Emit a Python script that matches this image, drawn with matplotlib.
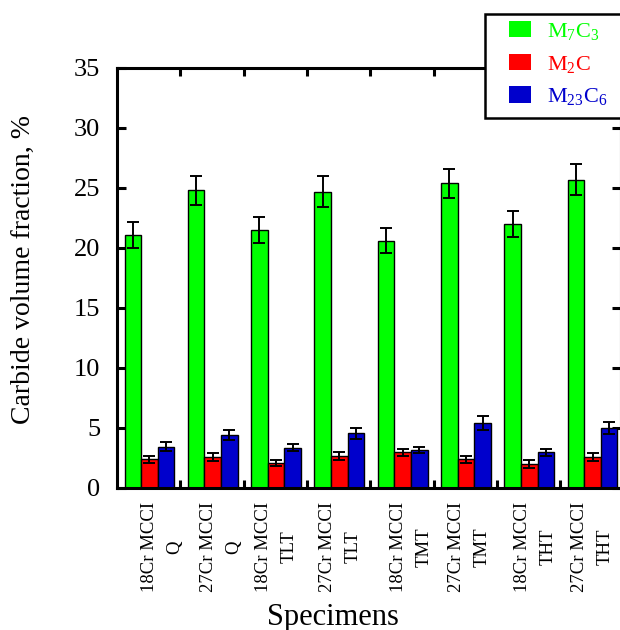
import matplotlib
matplotlib.use("Agg")
import matplotlib.pyplot as plt
from matplotlib.patches import Rectangle
import numpy as np

plt.rcParams['font.family'] = ['Liberation Serif', 'DejaVu Serif']
plt.rcParams['mathtext.fontset'] = 'custom'
plt.rcParams['mathtext.rm'] = 'Liberation Serif'
plt.rcParams['mathtext.it'] = 'Liberation Serif'

categories = ["18Cr MCCI\nQ", "27Cr MCCI\nQ", "18Cr MCCI\nTLT", "27Cr MCCI\nTLT",
              "18Cr MCCI\nTMT", "27Cr MCCI\nTMT", "18Cr MCCI\nTHT", "27Cr MCCI\nTHT"]
m7c3 = [21.1, 24.8, 21.5, 24.7, 20.6, 25.4, 22.0, 25.7]
m7c3_err = [1.1, 1.2, 1.1, 1.3, 1.05, 1.2, 1.1, 1.3]
m2c = [2.4, 2.58, 2.1, 2.67, 2.97, 2.4, 2.0, 2.56]
m2c_err = [0.3, 0.3, 0.27, 0.33, 0.3, 0.3, 0.3, 0.35]
m23c6 = [3.44, 4.44, 3.36, 4.56, 3.17, 5.42, 2.97, 5.0]
m23c6_err = [0.37, 0.4, 0.3, 0.47, 0.28, 0.6, 0.3, 0.5]
series_names = ["M$_7$C$_3$", "M$_2$C", "M$_{23}$C$_6$"]
colors = ["#00FF00", "#FF0000", "#0000CC"]
yticks = [0, 5, 10, 15, 20, 25, 30, 35]

# label placement nudges (fraction of a group), as the labels sit in the reference
label_nudge = np.array([0.2, 0.13, 0.0, 0.02, 0.14, 0.05, 0.1, 0.0])

W, H = 620, 630
fig = plt.figure(figsize=(W / 100, H / 100), dpi=100)
ax = fig.add_axes([117 / W, 1 - 488 / H, (621 - 117) / W, (488 - 68) / H])

x = np.arange(len(categories))
w = 0.262
for k, (vals, errs) in enumerate([(m7c3, m7c3_err), (m2c, m2c_err), (m23c6, m23c6_err)]):
    ax.bar(x + (k - 1) * w, vals, width=w, color=colors[k], edgecolor='black',
           linewidth=1.0, label=series_names[k], zorder=2,
           yerr=errs, error_kw=dict(ecolor='black', elinewidth=1.4, capsize=4, capthick=1.4))

ax.set_xlim(-0.513, 7.45)
ax.set_ylim(0, 35)
ax.set_yticks(yticks)
ax.set_yticklabels([str(v) for v in yticks])
ax.set_xticks(x + label_nudge)
ax.set_xticklabels(categories, rotation=90, va='top', ha='center', multialignment='center',
                   linespacing=1.65, fontsize=13.5)
ax.set_xticks(x[:-1] + 0.49, minor=True)

ax.tick_params(axis='x', which='major', length=0, pad=10)
ax.tick_params(axis='x', which='minor', direction='in', length=5.5, width=2.2,
               top=True, bottom=True)
ax.tick_params(axis='y', which='major', direction='in', length=6.5, width=2.2,
               left=True, right=True, labelsize=19, pad=12)
for s in ax.spines.values():
    s.set_linewidth(2.2)

ax.set_ylabel("Carbide volume fraction, %", fontsize=20)
ax.yaxis.set_label_coords((23 - 117) / 504, (488 - 269) / 420)
ax.set_xlabel("Specimens", fontsize=22)
ax.xaxis.set_label_coords((333 - 117) / 504, (488 - 617) / 420)
ax.xaxis.label.set_va('center')
ax.yaxis.label.set_va('center')

# legend frame box (extends past the right edge like the reference)
frame = Rectangle((485 / W, 1 - 118 / H), 150 / W, (118 - 14) / H, transform=fig.transFigure,
                  facecolor='white', edgecolor='black', linewidth=1.8, zorder=4)
fig.add_artist(frame)
leg = fig.legend(*ax.get_legend_handles_labels(), loc='upper left',
                 bbox_to_anchor=(509 / W, 1 - 21 / H), bbox_transform=fig.transFigure,
                 borderaxespad=0, borderpad=0, frameon=False,
                 fontsize=16, handlelength=1.0, handleheight=0.75, handletextpad=0.72,
                 labelspacing=0.52)
leg.set_zorder(6)
for t, c in zip(leg.get_texts(), colors):
    t.set_color(c)
for p in leg.get_patches():
    p.set_linewidth(0)

fig.savefig("out.png", dpi=100)
